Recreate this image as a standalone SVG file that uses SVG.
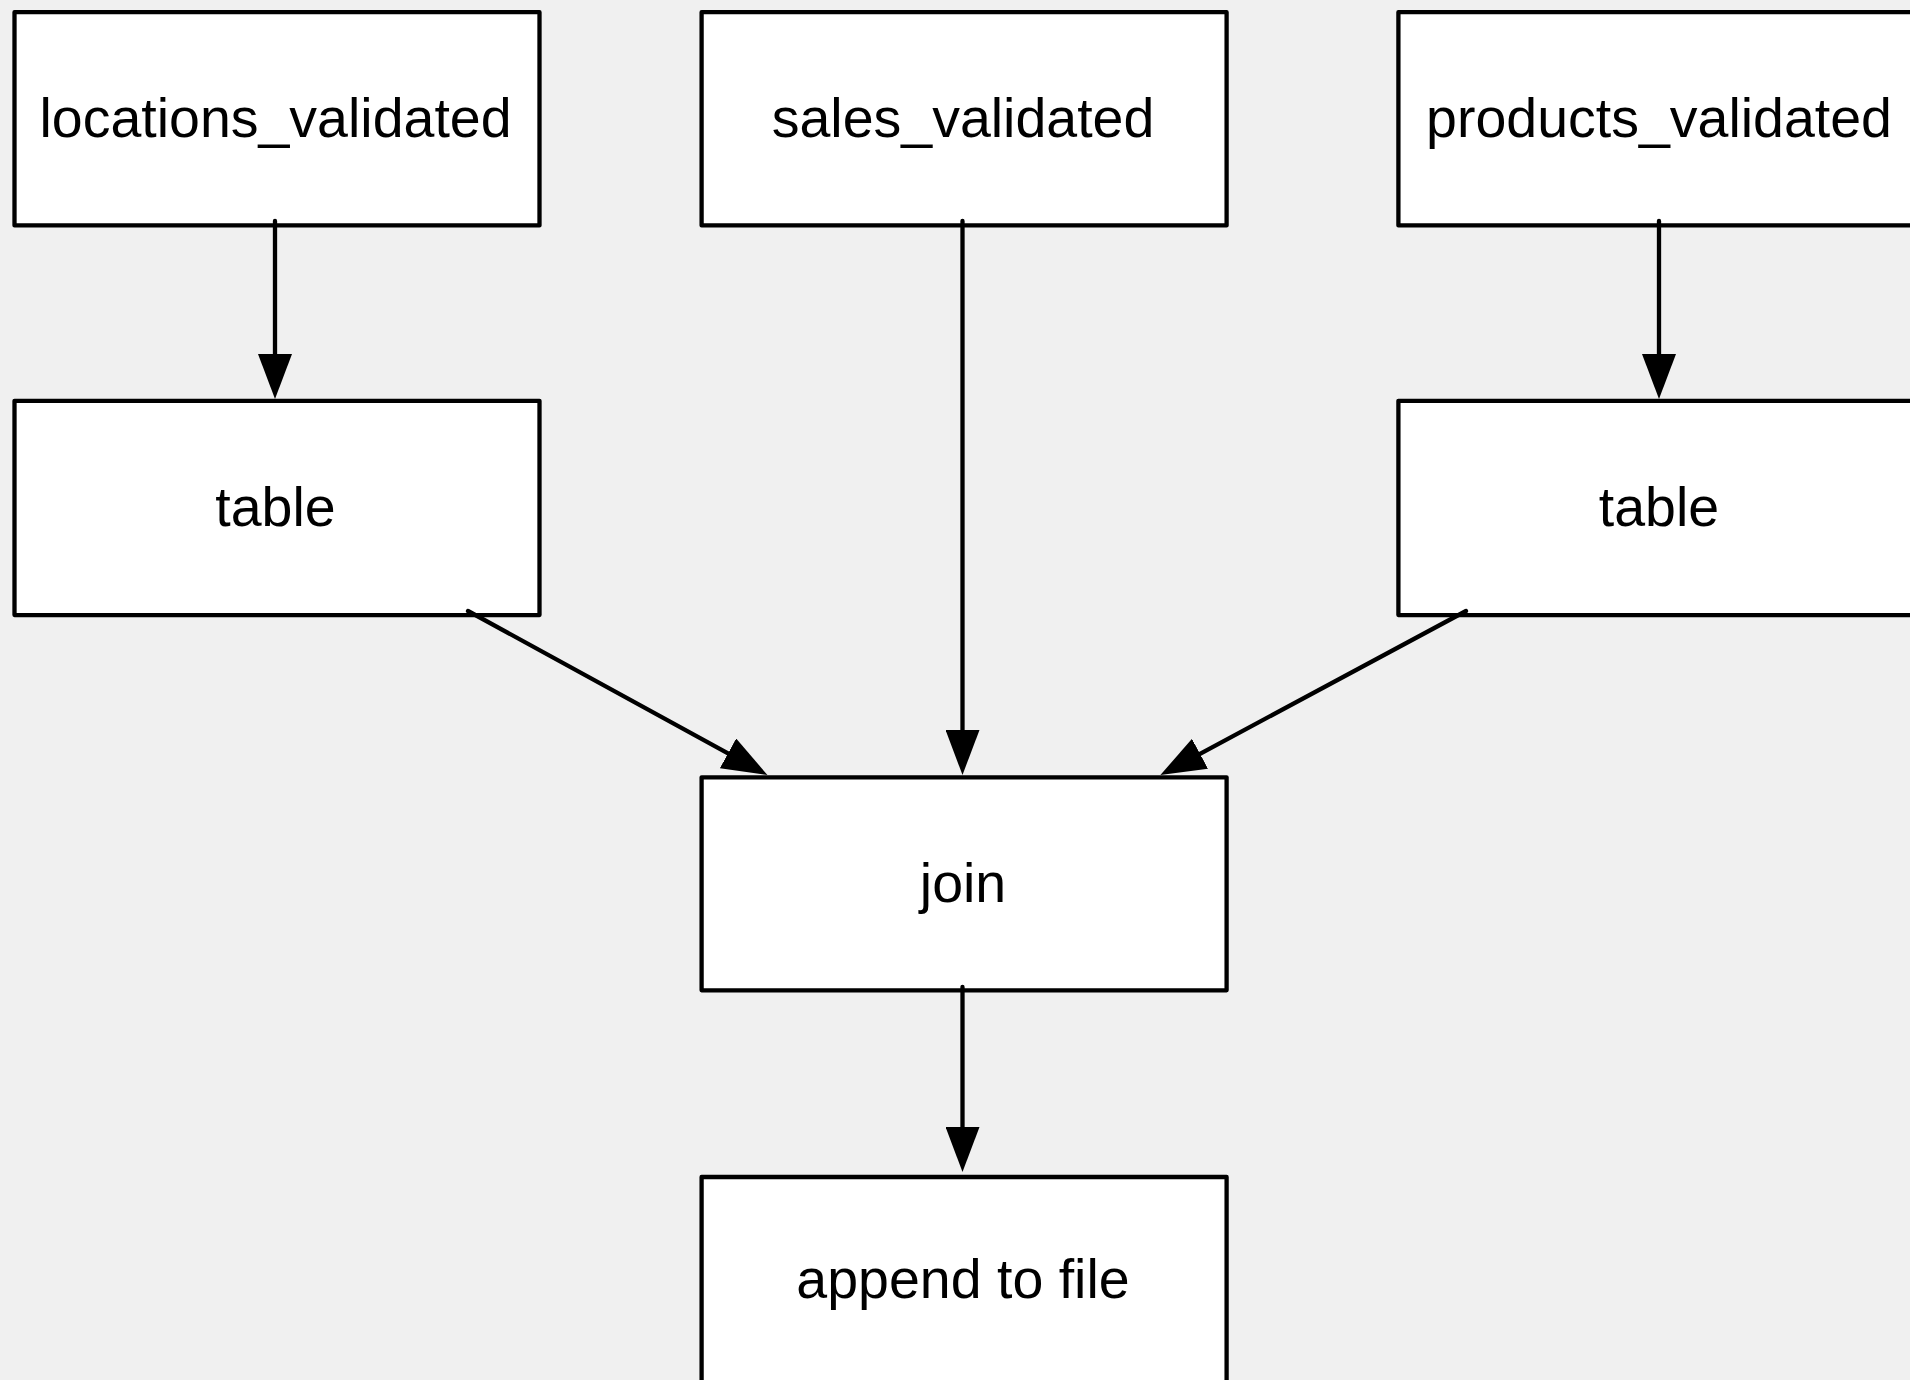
<svg xmlns="http://www.w3.org/2000/svg" width="1910" height="1380" viewBox="0 0 1910 1380">
<style>
.box{fill:#ffffff;stroke:#000000;stroke-width:4.3;stroke-linejoin:round}
.lbl{font-family:"Liberation Sans",Arial,sans-serif;font-size:55.5px;fill:#000000;text-anchor:middle}
.edge{stroke:#000000;stroke-width:4.3;fill:none;stroke-linecap:round}
</style>
<defs>
<marker id="arr" markerUnits="userSpaceOnUse" viewBox="0 0 45 34" markerWidth="45" markerHeight="34" refX="0" refY="17" orient="auto">
<path d="M0,0 L45,17 L0,34 Z" fill="#000000"/>
</marker>
</defs>
<rect x="0" y="0" width="1910" height="1380" fill="#f0f0f0"/>
<g id="locations_validated">
<rect class="box" x="14.5" y="12.2" width="525" height="213.2"/>
<text class="lbl" x="275.5" y="136.5">locations_validated</text>
</g>
<g id="sales_validated">
<rect class="box" x="701.6" y="12.2" width="525" height="213.2"/>
<text class="lbl" x="963" y="136.5">sales_validated</text>
</g>
<g id="products_validated">
<rect class="box" x="1398.4" y="12.2" width="525" height="213.2"/>
<text class="lbl" x="1659" y="136.5">products_validated</text>
</g>
<g id="table_left">
<rect class="box" x="14.5" y="400.8" width="525" height="214.3"/>
<text class="lbl" x="275.5" y="525.7">table</text>
</g>
<g id="table_right">
<rect class="box" x="1398.4" y="400.8" width="525" height="214.3"/>
<text class="lbl" x="1659" y="525.7">table</text>
</g>
<g id="join">
<rect class="box" x="701.6" y="777.3" width="525" height="213"/>
<text class="lbl" x="963" y="901.7">join</text>
</g>
<g id="append_to_file">
<rect class="box" x="701.6" y="1177" width="525" height="213"/>
<text class="lbl" x="963" y="1298.3">append to file</text>
</g>
<g id="connectors">
<line class="edge" x1="275" y1="221" x2="275" y2="354" marker-end="url(#arr)"/>
<line class="edge" x1="962.5" y1="221" x2="962.5" y2="730" marker-end="url(#arr)"/>
<line class="edge" x1="1659" y1="221" x2="1659" y2="354" marker-end="url(#arr)"/>
<line class="edge" x1="468" y1="611" x2="728" y2="753.4" marker-end="url(#arr)"/>
<line class="edge" x1="1466" y1="611" x2="1200" y2="753.8" marker-end="url(#arr)"/>
<line class="edge" x1="962.5" y1="987" x2="962.5" y2="1127" marker-end="url(#arr)"/>
</g>
</svg>
